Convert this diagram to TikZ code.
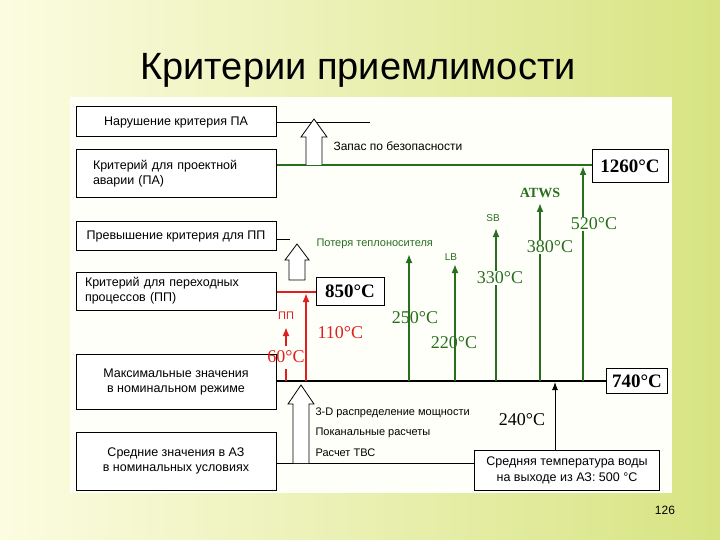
\documentclass[tikz,border=0pt]{standalone}
\usepackage{fontspec}
\setmainfont{Liberation Sans}
\newfontfamily\serifT{Liberation Serif}
\usetikzlibrary{arrows.meta}
\definecolor{gr}{RGB}{40,110,30}
\definecolor{rd}{RGB}{225,30,30}
\definecolor{bgl}{RGB}{252,252,225}
\definecolor{bgr}{RGB}{215,228,130}
\definecolor{pan}{RGB}{255,255,250}
\begin{document}
\begin{tikzpicture}[x=1pt,y=-1pt,
 crit/.style={draw,line width=1pt,fill=white,minimum width=200pt,align=center,font=\fontsize{12.5}{15}\selectfont,inner sep=2pt},
 temp/.style={draw,line width=1pt,fill=white,font=\serifT\bfseries\fontsize{19}{20}\selectfont,inner sep=3pt},
 tl/.style={font=\serifT\fontsize{18}{20}\selectfont},
 gl/.style={gr,font=\fontsize{11}{12}\selectfont},
 bl/.style={font=\fontsize{11}{12}\selectfont},
 garr/.style={gr,line width=2pt,-{Latex[length=9pt,width=7pt]}},
 rarr/.style={rd,line width=2pt,-{Latex[length=9pt,width=7pt]}},
 hollow/.style={draw,line width=0.8pt,fill=white}]
\useasboundingbox (0,0) rectangle (720,540);
\shade[left color=bgl,right color=bgr] (0,0) rectangle (720,540);
\fill[pan] (70,97) rectangle (672,493);
\node (title) at (358,70) {\fontsize{38}{42}\selectfont Критерии приемлимости};
% criteria boxes
\node[crit,minimum height=30pt] (b1) at (176,122) {Нарушение критерия ПА};
\node[crit,minimum height=48pt,align=left,text width=190pt] (b2) at (176,174) {\hspace{12pt}Критерий для проектной\\\hspace{12pt}аварии (ПА)};
\node[crit,minimum height=29pt] (b3) at (176,236) {Превышение критерия для ПП};
\node[crit,minimum height=38pt,align=left,text width=190pt] (b4) at (176,291) {\hspace{4pt}Критерий для переходных\\\hspace{4pt}процессов (ПП)};
\node[crit,minimum height=55pt] (b5) at (176,382) {Максимальные значения\\в номинальном режиме};
\node[crit,minimum height=58pt] (b6) at (176,461) {Средние значения в АЗ\\в номинальных условиях};
% temperature boxes
\node[temp,minimum width=76pt,minimum height=33pt] (t1260) at (630,166) {1260\textdegree C};
\node[temp,minimum width=68pt,minimum height=28pt] (t850) at (350,291) {850\textdegree C};
\node[temp,minimum width=61pt,minimum height=25pt] (t740) at (637,381) {740\textdegree C};
\node[draw,line width=0.8pt,fill=white,minimum width=185pt,minimum height=40pt,align=center,font=\fontsize{12.5}{16}\selectfont,inner sep=2pt] (avg) at (567,470) {Средняя температура воды\\на выходе из АЗ: 500 °C};
% horizontal lines
\coordinate (e1) at (370,123);
\draw[line width=1pt] (b1.east |- e1) -- (e1);
\draw[gr,line width=2.5pt] (b2.east |- 0,165) -- (t1260.west |- 0,165);
\coordinate (e3) at (290,239);
\draw[line width=1pt] (b3.east |- e3) -- (e3);
\draw[rd,line width=2pt] (b4.east |- 0,292) -- (t850.west |- 0,292);
\draw[line width=1.2pt] (b5.east |- 0,381) -- (t740.west |- 0,381);
\draw[line width=1pt] (b6.east |- 0,463) -- (avg.west |- 0,463);
% hollow arrows
\draw[hollow] (306,165) -- (306,137) -- (301,137) -- (314,119) -- (327,137) -- (322,137) -- (322,165);
\node[bl,anchor=west] (zap) at (330,146) {\fontsize{12}{14}\selectfont Запас по безопасности};
\draw[hollow] (289,280) -- (289,260) -- (285,260) -- (297,244) -- (309,260) -- (305,260) -- (305,280) -- cycle;
\node[gl,anchor=west] (pot) at (313,244) {Потеря теплоносителя};
\draw[hollow] (293,463) -- (293,404) -- (288,404) -- (301,385) -- (314,404) -- (309,404) -- (309,463);
\node[bl,anchor=west] (d1) at (312,413) {3-D распределение мощности};
\node[bl,anchor=west] (d2) at (312,433) {Поканальные расчеты};
\node[bl,anchor=west] (d3) at (312,453) {Расчет ТВС};
% red arrows
\coordinate (r1a) at (286,381); \coordinate (r1b) at (286,369);
\draw[rd,line width=2pt] (r1a) -- (r1b);
\coordinate (r1c) at (286,346); \coordinate (r1d) at (286,327);
\draw[rarr] (r1c) -- (r1d);
\node[rd,font=\fontsize{11}{12}\selectfont] (pp) at (286,316) {ПП};
\node[tl,rd] (t60) at (286,357) {60\textdegree C};
\coordinate (r2a) at (306,381);
\draw[rarr] (r2a) -- (306,293);
\node[tl,rd,anchor=west] (t110) at (314,333) {110\textdegree C};
% green arrows
\coordinate (g1) at (409,381); \coordinate (g1t) at (409,254);
\draw[garr] (g1) -- (g1t);
\node[tl,gr] (t250) at (415,318) {250\textdegree C};
\coordinate (g2) at (455,381); \coordinate (g2t) at (455,264);
\draw[garr] (g2) -- (g2t);
\node[gl,font=\fontsize{10}{12}\selectfont] (lb) at (451,257) {LB};
\node[tl,gr] (t220) at (454,343) {220\textdegree C};
\coordinate (g3) at (496,381); \coordinate (g3t) at (496,228);
\draw[garr] (g3) -- (g3t);
\node[gl,font=\fontsize{10}{12}\selectfont] (sb) at (493,218) {SB};
\node[tl,gr,fill=pan,inner sep=1pt] (t330) at (500,278) {330\textdegree C};
\coordinate (g4) at (540,381); \coordinate (g4t) at (540,203);
\draw[garr] (g4) -- (g4t);
\node[gr,font=\serifT\bfseries\fontsize{14}{16}\selectfont] (atws) at (540,193) {ATWS};
\node[tl,gr,fill=pan,inner sep=1pt] (t380) at (550,247) {380\textdegree C};
\coordinate (g5) at (583,381); \coordinate (g5t) at (583,166);
\draw[garr] (g5) -- (g5t);
\node[tl,gr,fill=pan,inner sep=1pt] (t520) at (594,224) {520\textdegree C};
% black arrow
\draw[line width=1pt,-{Latex[length=8pt,width=6pt]}] (avg.north -| 555,0) -- (555,382);
\node[tl] (t240) at (522,420) {240\textdegree C};
\node[font=\fontsize{12}{14}\selectfont] (pg) at (665,510) {126};
\end{tikzpicture}
\end{document}
